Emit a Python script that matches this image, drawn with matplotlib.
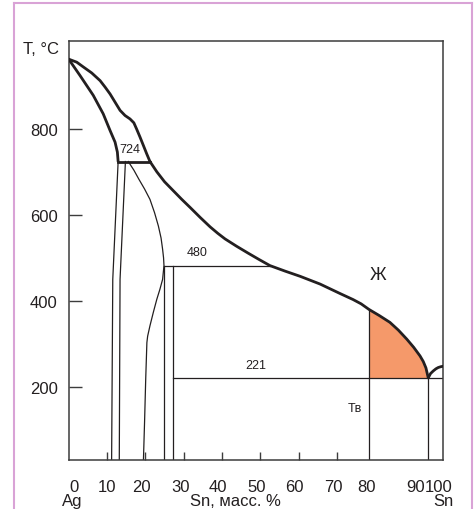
import matplotlib.pyplot as plt
from matplotlib.lines import Line2D

plt.rcParams['font.family'] = ['Liberation Sans', 'DejaVu Sans']

ink = '#231f20'

# Ag-rich liquidus and solidus (x = % Sn as drawn, T in deg C)
liq_ag_x = [0, 2.1, 3.8, 6.0, 8.2, 9.5, 10.8, 12.1, 13.4, 14.7, 16.0, 17.0, 17.7, 18.6, 19.5, 20.35, 21.2]
liq_ag_t = [962, 955, 944, 930, 912, 897, 881, 862, 843, 831, 823, 814, 800, 781, 761, 742, 724]
sol_ag_x = [0, 2.95, 6.4, 9.0, 10.8, 12.1, 12.7, 12.9]
sol_ag_t = [962, 924, 878, 835, 796, 769, 746, 724]

# main liquidus from peritectic to eutectic
liq_x = [21.2, 23.0, 25.0, 27.3, 29.5, 31.7, 34.3, 36.9, 38.9, 40.8, 43.8, 46.8, 49.7, 52.5,
         56.5, 60.4, 63.0, 65.6, 68.2, 70.8, 72.5, 74.2, 76.3, 78.35, 81.0, 83.8, 86.0, 88.2,
         90.0, 91.65, 92.5, 93.2, 93.8]
liq_t = [724, 700, 677, 656, 636, 617, 594, 572, 557, 544, 527, 511, 496, 482,
         469, 457, 448, 439, 428, 417, 410, 403, 393, 380, 366, 350, 332, 311,
         292, 272, 259, 244, 221]

# Sn-side liquidus
liq_sn_x = [93.8, 94.4, 95.1, 95.8, 96.4, 97.1, 97.73]
liq_sn_t = [221, 231, 237, 242, 245, 247, 248]

# solvus / phase boundaries below 724
line_a_x = [12.9, 11.5, 11.2]
line_a_t = [724, 450, 30]
line_b_x = [14.8, 13.4, 13.2]
line_b_t = [724, 450, 30]
curve_c_x = [15.55, 17.0, 18.3, 19.8, 21.2, 22.4, 23.4, 24.1, 24.5, 24.75, 24.86,
             24.5, 23.8, 23.0, 22.1, 21.2, 20.6, 20.4, 20.1, 19.8, 19.5]
curve_c_t = [724, 704, 683, 660, 636, 605, 574, 546, 520, 500, 482,
             450, 427, 404, 374, 342, 318, 303, 220, 120, 30]

# isotherms
peri1_x = [12.9, 21.2]
peri1_t = 724
peri2_x = [24.86, 52.5]
peri2_t = 482
eut_x = [27.3, 97.73]
eut_t = 221

# vertical lines
vert_d = 24.86
vert_e = 27.3
alloy_x = 78.35
alloy_top = 380
eut_comp = 93.8

# ticks
xtick_minor = [10, 20, 30, 40, 50, 60, 70]
xlabel_pos = [1.4, 9.9, 19.0, 29.2, 39.0, 49.0, 59.0, 69.0, 77.7, 90.4, 96.4]
xlabel_txt = ['0', '10', '20', '30', '40', '50', '60', '70', '80', '90', '100']
ytick_pos = [200, 400, 600, 800]

fig = plt.figure(figsize=(4.75, 5.1), dpi=100)
ax = fig.add_axes([0.1446, 0.0961, 0.7887, 0.8222])
ax.set_xlim(0, 97.73)
ax.set_ylim(30, 1005)

thick = 2.0
thin = 0.9

# orange region (alloy 80 % Sn between liquidus and eutectic)
fx = [x for x in liq_x if x >= alloy_x]
ft = [t for x, t in zip(liq_x, liq_t) if x >= alloy_x]
ax.fill_between(fx, ft, eut_t, color='#f5996a', lw=0, zorder=1)

kw = dict(color=ink, lw=thick, zorder=3, solid_capstyle='round', solid_joinstyle='round')
ax.plot(liq_ag_x, liq_ag_t, **kw)
ax.plot(sol_ag_x, sol_ag_t, **kw)
ax.plot(liq_x, liq_t, **kw)
ax.plot(liq_sn_x, liq_sn_t, **kw)
ax.plot(peri1_x, [peri1_t, peri1_t], color=ink, lw=thick, zorder=3)

for xs, ts in [(line_a_x, line_a_t), (line_b_x, line_b_t), (curve_c_x, curve_c_t)]:
    ax.plot(xs, ts, color=ink, lw=thin, zorder=2, solid_joinstyle='round')
ax.plot(peri2_x, [peri2_t, peri2_t], color=ink, lw=thin, zorder=2)
ax.plot(eut_x, [eut_t, eut_t], color=ink, lw=thin, zorder=2)
ax.plot([vert_d, vert_d], [peri2_t, 30], color=ink, lw=thin, zorder=2)
ax.plot([vert_e, vert_e], [peri2_t, 30], color=ink, lw=thin, zorder=2)
ax.plot([alloy_x, alloy_x], [alloy_top, 30], color=ink, lw=thin, zorder=2)
ax.plot([eut_comp, eut_comp], [eut_t, 30], color=ink, lw=thin, zorder=2)

ax.text(16.0, 752, '724', fontsize=9, ha='center', va='center', color=ink)
ax.text(33.6, 514, '480', fontsize=9, ha='center', va='center', color=ink)
ax.text(48.7, 252, '221', fontsize=9, ha='center', va='center', color=ink)
ax.text(74.7, 152, 'Tв', fontsize=9, ha='center', va='center', color=ink)
ax.text(80.7, 462, 'Ж', fontsize=13, ha='center', va='center', color=ink)

for s in ax.spines.values():
    s.set_color('#3c3c3c')
    s.set_linewidth(1.1)

ax.set_yticks(ytick_pos)
ax.set_yticklabels([str(v) for v in ytick_pos])
ax.tick_params(axis='y', direction='in', length=9.5, width=1.0, color='#3c3c3c',
               labelsize=12, labelcolor=ink, pad=8)
ax.set_xticks(xlabel_pos)
ax.set_xticklabels(xlabel_txt)
ax.tick_params(axis='x', which='major', length=0, labelsize=12, labelcolor=ink, pad=14)
ax.set_xticks(xtick_minor, minor=True)
ax.tick_params(axis='x', which='minor', direction='in', length=6, width=1.0, color='#3c3c3c')

ax.text(-0.026, 0.981, 'T, °C', transform=ax.transAxes, fontsize=12, ha='right', va='center', color=ink)
fig.text(72.5 / 475, 1 - 502 / 510, 'Ag', fontsize=12, ha='center', va='center', color=ink)
fig.text(235 / 475, 1 - 502 / 510, 'Sn, масс. %', fontsize=12, ha='center', va='center', color=ink)
fig.text(443 / 475, 1 - 502 / 510, 'Sn', fontsize=12, ha='center', va='center', color=ink)

# pink frame around the figure
frame = '#d9a3d6'
fig.add_artist(Line2D([14.3 / 475, 14.3 / 475], [0, 1 - 4.3 / 510], transform=fig.transFigure, color=frame, lw=1.5))
fig.add_artist(Line2D([14.3 / 475, 471.7 / 475], [1 - 4.3 / 510, 1 - 4.3 / 510], transform=fig.transFigure, color=frame, lw=1.5))
fig.add_artist(Line2D([471.7 / 475, 471.7 / 475], [0, 1 - 4.3 / 510], transform=fig.transFigure, color=frame, lw=1.5))

fig.savefig('out.png', dpi=100)
